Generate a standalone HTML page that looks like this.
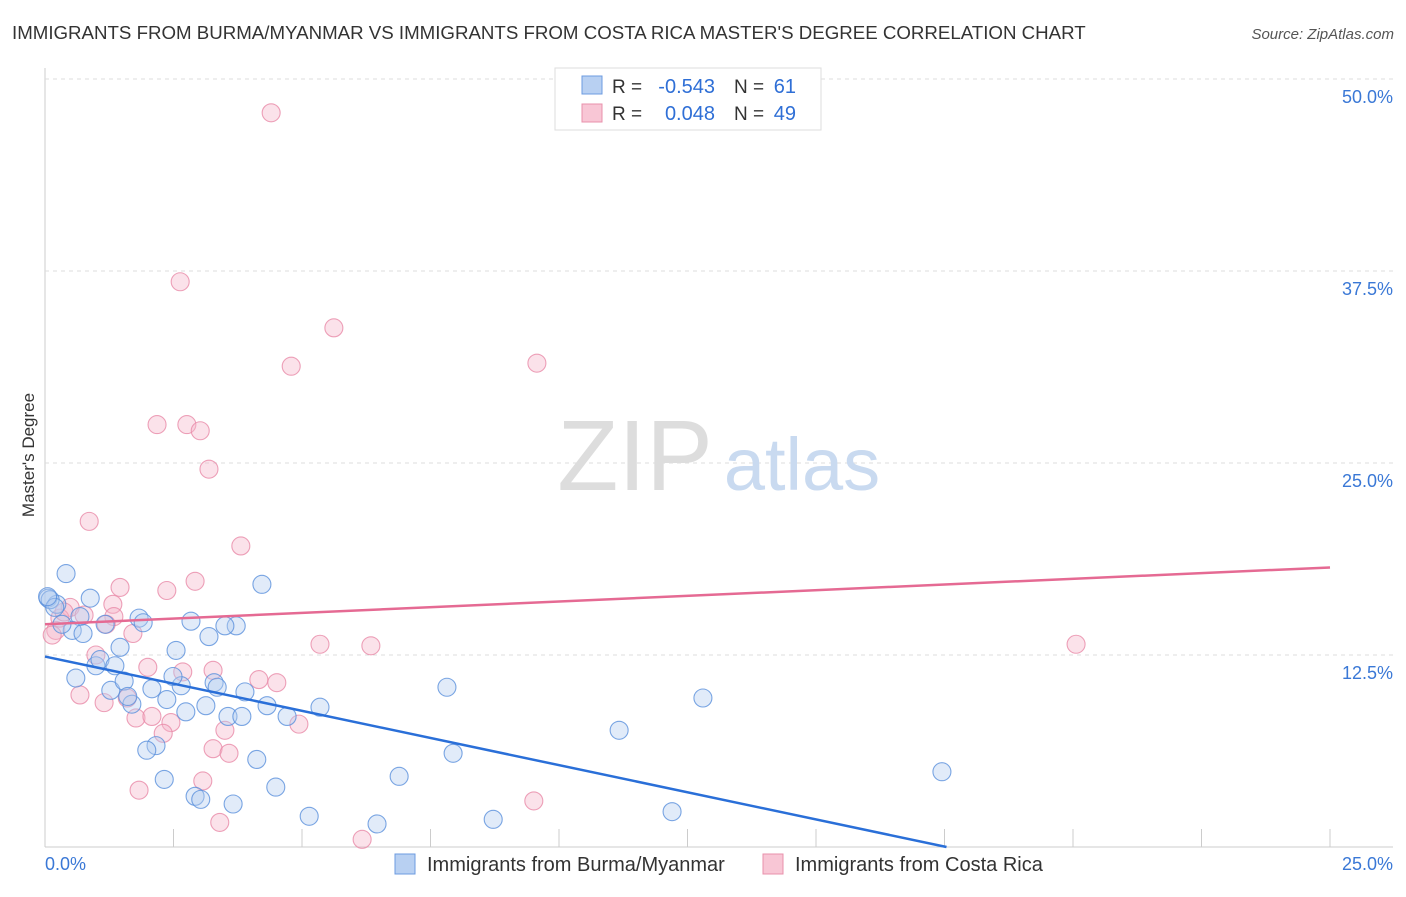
<!DOCTYPE html>
<html><head><meta charset="utf-8">
<style>
body{margin:0;background:#fff;font-family:"Liberation Sans",sans-serif;}
svg text{font-family:"Liberation Sans",sans-serif;}
</style></head>
<body>
<svg width="1406" height="892" xmlns="http://www.w3.org/2000/svg">
<text x="12" y="39" font-size="18.7" fill="#333">IMMIGRANTS FROM BURMA/MYANMAR VS IMMIGRANTS FROM COSTA RICA MASTER'S DEGREE CORRELATION CHART</text>
<text x="1394" y="39" font-size="15" fill="#555" text-anchor="end" font-style="italic">Source: ZipAtlas.com</text>
<g id="grid"></g>
<g>
<text x="635" y="490" font-size="100" fill="#ddd" font-family="Liberation Serif" text-anchor="middle">ZIP</text>
<text x="802" y="490" font-size="74" fill="#c9daf0" text-anchor="middle">atlas</text>
</g>
<text x="34" y="455" font-size="17" fill="#333" text-anchor="middle" transform="rotate(-90 34 455)">Master's Degree</text>
<g id="pts"></g>
<g id="lines"></g>
<g>
<rect x="555" y="68" width="266" height="62" fill="#fff" stroke="#ddd"/>
<rect x="582" y="76" width="20" height="18" fill="#b8d0f2" stroke="#6c9be0"/>
<rect x="582" y="104" width="20" height="18" fill="#f8c6d5" stroke="#e890ab"/>
<text x="612" y="93" font-size="19" fill="#333">R =</text>
<text x="715" y="93" font-size="20" fill="#2f6fd6" text-anchor="end">-0.543</text>
<text x="734" y="93" font-size="19" fill="#333">N =</text>
<text x="796" y="93" font-size="20" fill="#2f6fd6" text-anchor="end">61</text>
<text x="612" y="120" font-size="19" fill="#333">R =</text>
<text x="715" y="120" font-size="20" fill="#2f6fd6" text-anchor="end">0.048</text>
<text x="734" y="120" font-size="19" fill="#333">N =</text>
<text x="796" y="120" font-size="20" fill="#2f6fd6" text-anchor="end">49</text>
</g>
<g>
<rect x="395" y="854" width="20" height="20" fill="#b8d0f2" stroke="#6c9be0"/>
<text x="427" y="871" font-size="20" fill="#333">Immigrants from Burma/Myanmar</text>
<rect x="763" y="854" width="20" height="20" fill="#f8c6d5" stroke="#e890ab"/>
<text x="795" y="871" font-size="20" fill="#333">Immigrants from Costa Rica</text>
</g>
</svg>
<script>
const blueX=[0.06,0.41,0.23,0.88,0.68,0.53,0.74,1.46,1.17,1.83,1.91,2.84,3.72,3.50,3.19,2.55,4.22,0.99,1.07,1.36,0.60,1.28,1.54,1.69,2.08,2.37,2.65,2.49,3.29,3.35,3.89,3.13,2.74,3.56,3.83,4.32,4.71,5.35,2.16,1.98,2.32,2.92,3.03,3.66,4.49,4.12,5.14,6.46,6.89,7.82,7.94,8.72,11.17,12.20,12.80,17.45,0.10,0.19,1.61,0.33,0.05];
const blueY=[16.2,17.8,15.8,16.2,15.0,14.1,13.9,13.0,14.5,14.9,14.6,14.7,14.4,14.4,13.7,12.8,17.1,11.8,12.2,11.8,11.0,10.2,10.8,9.3,10.3,9.6,10.5,11.1,10.7,10.4,10.1,9.2,8.8,8.5,8.5,9.2,8.5,9.1,6.6,6.3,4.4,3.3,3.1,2.8,3.9,5.7,2.0,1.5,4.6,10.4,6.1,1.8,7.6,2.3,9.7,4.9,16.1,15.6,9.8,14.5,16.3];
const pinkX=[4.40,2.63,5.62,4.79,9.57,2.18,2.76,3.02,3.19,0.86,3.81,2.92,2.37,1.46,1.32,1.34,1.19,1.71,0.49,0.21,0.14,0.76,0.29,0.99,2.00,2.68,3.27,4.16,4.51,5.35,6.34,20.06,0.68,1.15,1.60,1.77,2.08,2.45,2.30,3.50,4.94,3.27,3.58,3.07,1.83,3.40,6.17,9.51,0.37];
const pinkY=[47.8,36.8,33.8,31.3,31.5,27.5,27.5,27.1,24.6,21.2,19.6,17.3,16.7,16.9,15.8,15.0,14.5,13.9,15.6,14.1,13.8,15.1,14.9,12.5,11.7,11.4,11.5,10.9,10.7,13.2,13.1,13.2,9.9,9.4,9.7,8.4,8.5,8.1,7.4,7.6,8.0,6.4,6.1,4.3,3.7,1.6,0.5,3.0,15.3];
const blueTrend=[12.4,-0.707];
const pinkTrend=[14.5,0.148];
const yTicks=[12.5,25.0,37.5,50.0];
const xTickVals=[0,2.5,5,7.5,10,12.5,15,17.5,20,22.5,25];
const NS="http://www.w3.org/2000/svg";
const X=v=>45+v*(1285/25), Y=v=>847-v*(192/12.5);
function mk(t,a,p){const e=document.createElementNS(NS,t);for(const k in a)e.setAttribute(k,a[k]);p.appendChild(e);return e;}
const grid=document.getElementById('grid');
mk('line',{x1:45,y1:68,x2:45,y2:847,stroke:'#ccc'},grid);
mk('line',{x1:45,y1:847,x2:1393,y2:847,stroke:'#ccc'},grid);
yTicks.forEach(v=>{
 const l=mk('line',{x1:45,y1:Y(v),x2:1393,y2:Y(v),stroke:'#ddd','stroke-dasharray':'4,4'},grid);
 
 
 const t=mk('text',{x:1393,y:Y(v)+24,'font-size':18,fill:'#3a78d6','text-anchor':'end'},grid);
 t.textContent=v.toFixed(1)+'%';
 
 
});
xTickVals.forEach(v=>{
 const l=mk('line',{x1:X(v),y1:829,x2:X(v),y2:847,stroke:'#ccc'},grid);
 
 
});
[[0,'0.0%','start',45],[25,'25.0%','end',1393]].forEach(d=>{
 const t=mk('text',{x:d[3],y:870,'font-size':18,fill:'#3a78d6','text-anchor':d[2]},grid);
 t.textContent=d[1];
 
 
});
const pts=document.getElementById('pts');
function draw(xs,ys,fill,stroke,name){
 xs.forEach((x,i)=>{
  const c=mk('circle',{cx:X(x),cy:Y(ys[i]),r:9,fill:fill,'fill-opacity':0.4,stroke:stroke,'stroke-opacity':0.8,'stroke-width':1.1},pts);
  
  
 });
}
draw(pinkX,pinkY,'#f6b7ca','#e88aa8','point-costa-rica');
draw(blueX,blueY,'#b3cdf1','#5a90dc','point-burma');
const lines=document.getElementById('lines');
const bEnd=-blueTrend[0]/blueTrend[1];
const bl=mk('line',{x1:X(0),y1:Y(blueTrend[0]),x2:X(bEnd),y2:Y(0),stroke:'#2a6fd8','stroke-width':2.5},lines);


const pl=mk('line',{x1:X(0),y1:Y(pinkTrend[0]),x2:X(25),y2:Y(pinkTrend[0]+25*pinkTrend[1]),stroke:'#e56a93','stroke-width':2.5},lines);


</script>
</body></html>
